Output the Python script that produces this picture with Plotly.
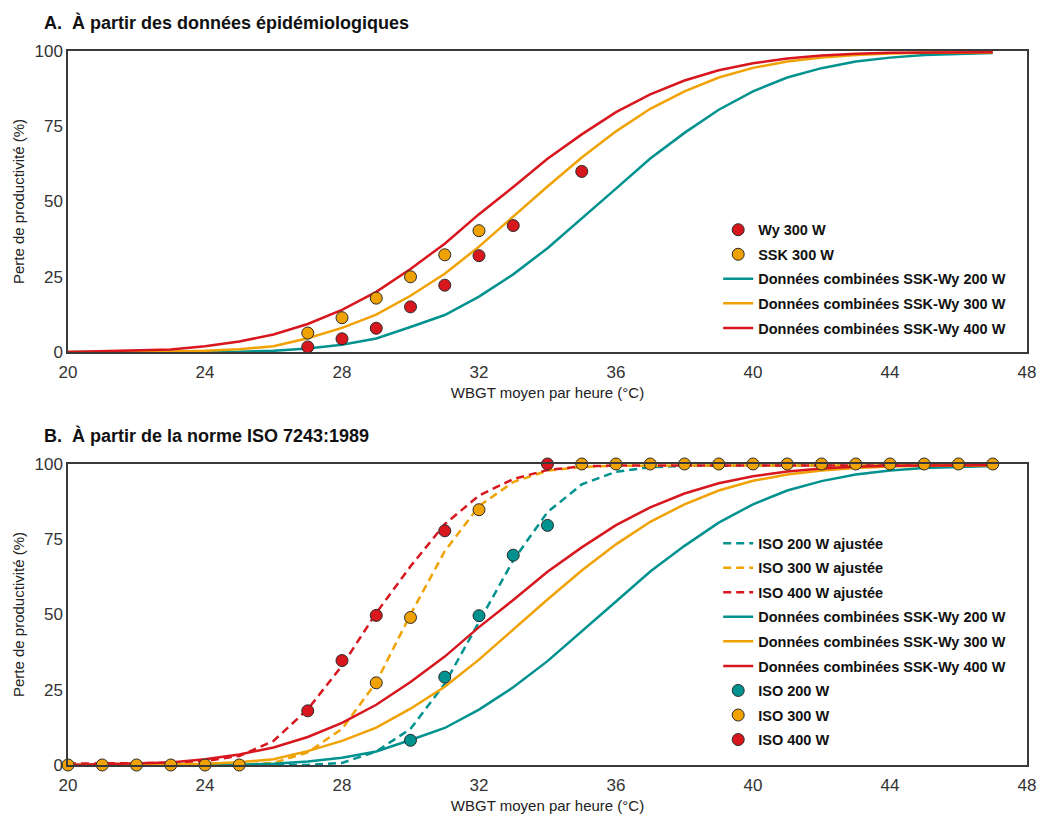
import plotly.graph_objects as go
from plotly.subplots import make_subplots

# ---------------- data ----------------
wbgt = list(range(20, 48))

combined_200 = [0, 0, 0, 0, 0, 0.1, 0.4, 1.2, 2.4, 4.5, 8.3, 12.3, 18.4, 25.8, 34.5, 44.3,
                54.3, 64.3, 72.8, 80.5, 86.6, 91.2, 94.3, 96.5, 97.8, 98.7, 99.1, 99.3]
combined_300 = [0, 0, 0.1, 0.2, 0.4, 0.9, 1.9, 4.6, 8.0, 12.4, 18.7, 26.0, 35.0, 45.0, 55.0, 64.6,
                73.3, 80.8, 86.6, 91.2, 94.4, 96.5, 97.8, 98.7, 99.2, 99.4, 99.5, 99.5]
combined_400 = [0, 0.3, 0.5, 0.8, 1.9, 3.5, 5.8, 9.3, 14.0, 20.0, 27.6, 36.0, 45.8, 54.8, 64.2, 72.3,
                79.7, 85.6, 90.2, 93.6, 95.9, 97.5, 98.5, 99.1, 99.4, 99.5, 99.6, 99.6]

wy_x = [27, 28, 29, 30, 31, 32, 33, 35]
wy_y = [1.7, 4.4, 7.9, 15.0, 22.2, 32.0, 42.0, 60.0]
ssk_x = [27, 28, 29, 30, 31, 32]
ssk_y = [6.3, 11.4, 17.9, 25.0, 32.3, 40.3]

iso200_fit = [0, 0, 0, 0, 0, 0, 0, 0, 0.7, 4.5, 12.0, 27.0, 47.5, 68.0, 84.0, 93.2,
              97.4, 98.9, 99.4, 99.5, 99.5, 99.5, 99.5, 99.5, 99.5, 99.5, 99.5, 99.5]
iso300_fit = [0, 0, 0, 0, 0, 0, 0.7, 4.2, 12.0, 27.5, 50.0, 71.0, 86.0, 94.0, 97.8, 99.0,
              99.4, 99.5, 99.5, 99.5, 99.5, 99.5, 99.5, 99.5, 99.5, 99.5, 99.5, 99.5]
iso400_fit = [0.5, 0.5, 0.6, 0.8, 1.3, 3.0, 8.0, 18.5, 33.0, 50.5, 66.0, 80.0, 89.5, 95.0, 98.0, 99.2,
              99.5, 99.5, 99.5, 99.5, 99.5, 99.5, 99.5, 99.5, 99.5, 99.5, 99.5, 99.5]

iso200_x = [26, 27, 28, 30, 31, 32, 33, 34]
iso200_y = [-1, -1, -1, 8.2, 29.2, 49.6, 69.7, 79.6]
iso300_x = [20, 21, 22, 23, 24, 25, 29, 30, 32, 35, 36, 37, 38, 39, 40, 41, 42, 43, 44, 45, 46, 47]
iso300_y = [0, 0, 0, 0, 0, 0, 27.3, 49.0, 84.8, 100, 100, 100, 100, 100, 100, 100, 100, 100, 100, 100, 100, 100]
iso400_x = [27, 28, 29, 31, 34]
iso400_y = [18.0, 34.7, 49.7, 77.8, 100]

x_ticks = [20, 24, 28, 32, 36, 40, 44, 48]
y_ticks = [0, 25, 50, 75, 100]

# ---------------- styles ----------------
TEAL = "#00928F"
ORANGE = "#F0A202"
RED = "#D7161E"
FONT = "Liberation Sans"
LW = 2.5
MSIZE = 12
MLINE = dict(color="#2a2a2a", width=1)

fig = make_subplots(rows=2, cols=1, vertical_spacing=0.1568)

# ---- Panel A ----
for name, ys, col, rank in [("Données combinées SSK-Wy 200 W", combined_200, TEAL, 3),
                            ("Données combinées SSK-Wy 300 W", combined_300, ORANGE, 4),
                            ("Données combinées SSK-Wy 400 W", combined_400, RED, 5)]:
    fig.add_trace(go.Scatter(x=wbgt, y=ys, mode="lines", name=name,
                             line=dict(color=col, width=LW), legend="legend",
                             legendrank=rank, legendgroup="a" + str(rank)), row=1, col=1)
fig.add_trace(go.Scatter(x=wy_x, y=wy_y, mode="markers", name="Wy 300 W",
                         marker=dict(color=RED, size=MSIZE, line=MLINE), legend="legend",
                         legendrank=1, legendgroup="a1", cliponaxis=False), row=1, col=1)
fig.add_trace(go.Scatter(x=ssk_x, y=ssk_y, mode="markers", name="SSK 300 W",
                         marker=dict(color=ORANGE, size=MSIZE, line=MLINE), legend="legend",
                         legendrank=2, legendgroup="a2", cliponaxis=False), row=1, col=1)

# ---- Panel B ----
for name, ys, col, g in [("ISO 200 W ajustée", iso200_fit, TEAL, 1),
                         ("ISO 300 W ajustée", iso300_fit, ORANGE, 2),
                         ("ISO 400 W ajustée", iso400_fit, RED, 3)]:
    fig.add_trace(go.Scatter(x=wbgt, y=ys, mode="lines", name=name,
                             line=dict(color=col, width=LW, dash="8px,5px"), legend="legend2",
                             legendgroup="b" + str(g)), row=2, col=1)
for name, ys, col, g in [("Données combinées SSK-Wy 200 W", combined_200, TEAL, 4),
                         ("Données combinées SSK-Wy 300 W", combined_300, ORANGE, 5),
                         ("Données combinées SSK-Wy 400 W", combined_400, RED, 6)]:
    fig.add_trace(go.Scatter(x=wbgt, y=ys, mode="lines", name=name,
                             line=dict(color=col, width=LW), legend="legend2",
                             legendgroup="b" + str(g)), row=2, col=1)
for name, xs, ys, col, g in [("ISO 200 W", iso200_x, iso200_y, TEAL, 7),
                             ("ISO 300 W", iso300_x, iso300_y, ORANGE, 8),
                             ("ISO 400 W", iso400_x, iso400_y, RED, 9)]:
    fig.add_trace(go.Scatter(x=xs, y=ys, mode="markers", name=name,
                             marker=dict(color=col, size=MSIZE, line=MLINE), legend="legend2",
                             legendgroup="b" + str(g), cliponaxis=False), row=2, col=1)

axis_common = dict(showline=True, mirror=True, linecolor="#3a3a3a", linewidth=1.5,
                   showgrid=False, zeroline=False, ticks="",
                   tickfont=dict(family=FONT, size=17, color="#333333"))

for r in (1, 2):
    fig.update_xaxes(range=[20, 48], tickvals=x_ticks, ticktext=[str(v) for v in x_ticks],
                     ticklabelstandoff=4,
                     title=dict(text="WBGT moyen par heure (°C)",
                                font=dict(family=FONT, size=15, color="#222222"), standoff=6),
                     row=r, col=1, **axis_common)
    fig.update_yaxes(range=[0, 100], tickvals=y_ticks, ticktext=[str(v) for v in y_ticks],
                     title=dict(text="Perte de productivité (%)",
                                font=dict(family=FONT, size=15, color="#222222"), standoff=6),
                     row=r, col=1, **axis_common)

legend_font = dict(family=FONT, size=14.5, color="#111111", weight="bold")
fig.update_layout(
    width=1043, height=816,
    margin=dict(l=68, r=16, t=51, b=51, autoexpand=False),
    plot_bgcolor="white", paper_bgcolor="white",
    font=dict(family=FONT),
    legend=dict(x=0.678, y=0.772, xanchor="left", yanchor="top", font=legend_font,
                bgcolor="rgba(0,0,0,0)", tracegroupgap=2.7, itemwidth=30),
    legend2=dict(x=0.678, y=0.333, xanchor="left", yanchor="top", font=legend_font,
                 bgcolor="rgba(0,0,0,0)", tracegroupgap=2.7, itemwidth=30),
    annotations=[
        dict(text="<b>A.\u00a0\u00a0À partir des données épidémiologiques</b>", xref="paper", yref="paper",
             x=-0.0271, y=1.0406, xanchor="left", yanchor="middle", showarrow=False,
             font=dict(family=FONT, size=18, color="#111111")),
        dict(text="<b>B.\u00a0\u00a0À partir de la norme ISO 7243:1989</b>", xref="paper", yref="paper",
             x=-0.0271, y=0.462, xanchor="left", yanchor="middle", showarrow=False,
             font=dict(family=FONT, size=18, color="#111111")),
    ],
)

fig.write_html("out.html")
